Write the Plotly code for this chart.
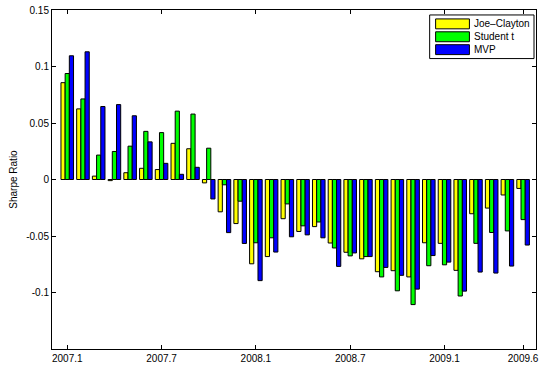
import plotly.graph_objects as go

# Monthly Sharpe ratios, 2007.1 .. 2009.6
months = list(range(1, 31))
tick_pos = [1, 7, 13, 19, 25, 30]
tick_text = ["2007.1", "2007.7", "2008.1", "2008.7", "2009.1", "2009.6"]

joe_clayton = [0.0857, 0.0625, 0.003, -0.001, 0.006, 0.0099, 0.0088, 0.032, 0.0272, -0.003,
               -0.0286, -0.039, -0.0746, -0.0682, -0.0347, -0.046, -0.0417, -0.0562, -0.0644, -0.0702,
               -0.0816, -0.0807, -0.0862, -0.056, -0.0565, -0.0804, -0.0303, -0.0253, -0.0137, -0.0079]
student_t = [0.0938, 0.0713, 0.0216, 0.0248, 0.0295, 0.0426, 0.0415, 0.0605, 0.0579, 0.0277,
             -0.0047, -0.0192, -0.056, -0.0516, -0.0216, -0.041, -0.0376, -0.0606, -0.0676, -0.0682,
             -0.0862, -0.0985, -0.1107, -0.0763, -0.0755, -0.1031, -0.0565, -0.0469, -0.0455, -0.0355]
mvp = [0.1095, 0.113, 0.0646, 0.0663, 0.0564, 0.0333, 0.0143, 0.0046, 0.0108, -0.0172,
       -0.047, -0.0566, -0.0895, -0.0642, -0.0507, -0.049, -0.0516, -0.0769, -0.065, -0.0682,
       -0.0778, -0.0848, -0.097, -0.0673, -0.0731, -0.0988, -0.0819, -0.0828, -0.0766, -0.058]

series_names = ["Joe\u2013Clayton", "Student t", "MVP"]
series_colors = ["#FFFF00", "#00FF00", "#0000FF"]
series_values = [joe_clayton, student_t, mvp]

W, H = 543, 368
M_L, M_R, M_T, M_B = 52, 4, 10, 16
PW, PH = W - M_L - M_R, H - M_T - M_B

def px_x(p):
    return (p - M_L) / PW

def px_y(p):
    return (H - M_B - p) / PH

FONT = "Liberation Sans, Arial, Helvetica, sans-serif"

fig = go.Figure()
for name, vals, color in zip(series_names, series_values, series_colors):
    fig.add_trace(go.Bar(x=months, y=vals, name=name, showlegend=False,
                         marker=dict(color=color, line=dict(color="black", width=1))))

# MATLAB-style legend box with wide swatches
shapes = [dict(type="rect", xref="paper", yref="paper",
               x0=px_x(432), x1=px_x(537), y0=px_y(59), y1=px_y(15),
               line=dict(color="black", width=1), fillcolor="white", layer="above")]
annotations = []
row_centers = [24, 37, 50]
for name, color, cy in zip(series_names, series_colors, row_centers):
    shapes.append(dict(type="rect", xref="paper", yref="paper",
                       x0=px_x(438), x1=px_x(472), y0=px_y(cy + 5), y1=px_y(cy - 5),
                       line=dict(color="black", width=1), fillcolor=color, layer="above"))
    annotations.append(dict(xref="paper", yref="paper", x=px_x(475), y=px_y(cy),
                            xanchor="left", yanchor="middle", showarrow=False, text=name,
                            font=dict(family=FONT, size=10, color="black")))

fig.update_layout(
    width=W, height=H,
    margin=dict(l=M_L, r=M_R, t=M_T, b=M_B),
    paper_bgcolor="white", plot_bgcolor="white",
    barmode="group", bargap=0.2, bargroupgap=0,
    font=dict(family=FONT, size=10, color="black"),
    showlegend=False,
    shapes=shapes, annotations=annotations,
    xaxis=dict(range=[0.03, 30.82], tickmode="array", tickvals=tick_pos, ticktext=tick_text,
               ticks="inside", ticklen=4, tickcolor="black", showline=True, linecolor="black",
               linewidth=1, mirror="ticks", showgrid=False, zeroline=False),
    yaxis=dict(range=[-0.15, 0.15], tickmode="array",
               tickvals=[-0.1, -0.05, 0, 0.05, 0.1, 0.15],
               ticktext=["-0.1", "-0.05", "0", "0.05", "0.1", "0.15"],
               ticks="inside", ticklen=4, tickcolor="black", showline=True, linecolor="black",
               linewidth=1, mirror="ticks", showgrid=False, zeroline=False,
               title=dict(text="Sharpe Ratio", standoff=6, font=dict(size=10))),
)

fig.write_html("out.html")
